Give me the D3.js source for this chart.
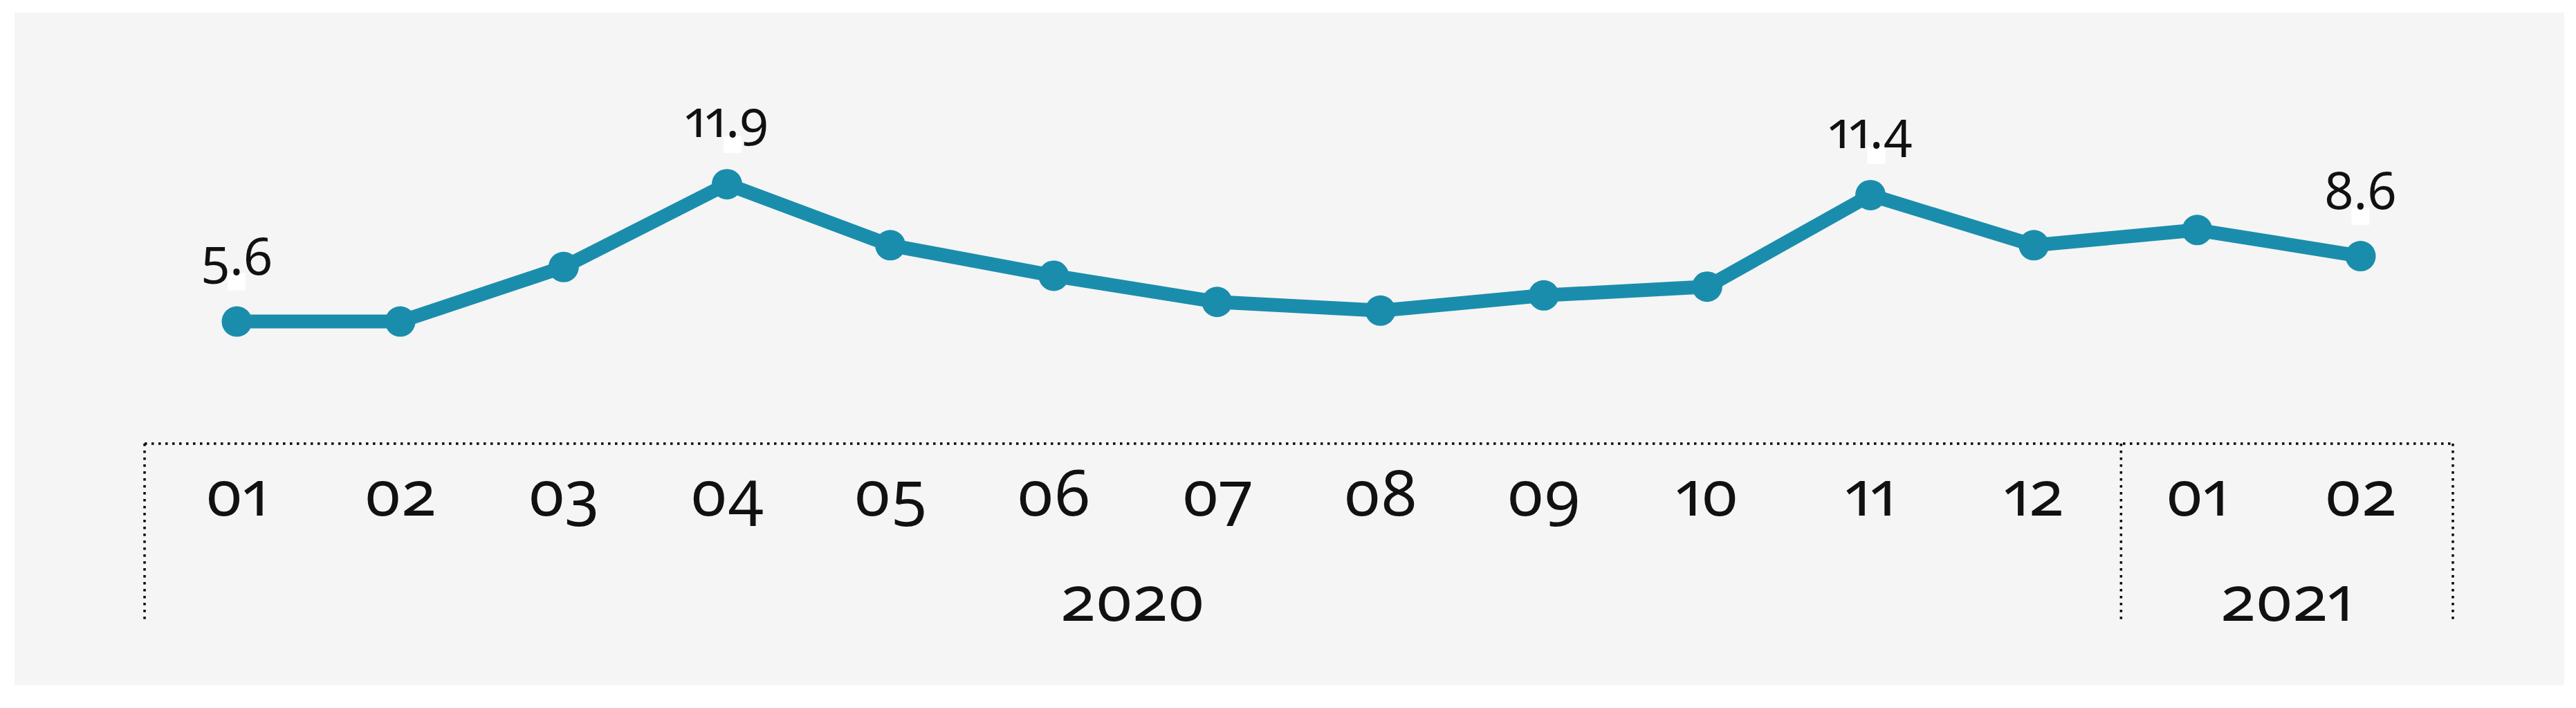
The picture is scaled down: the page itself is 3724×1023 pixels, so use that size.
<!DOCTYPE html>
<html>
<head>
<meta charset="utf-8">
<script src="https://cdn.jsdelivr.net/npm/d3@7"></script>
<style>
  html, body { margin: 0; padding: 0; background: #ffffff; }
  svg { display: block; }
  text { font-family: "Noto Sans", "Lato", sans-serif; font-variant-numeric: oldstyle-nums proportional-nums; font-feature-settings: "onum" 1, "pnum" 1; fill: #111; }
</style>
</head>
<body>
<script>
// ---- data ----
const months = ["01","02","03","04","05","06","07","08","09","10","11","12","01","02"];
const years = ["2020","2020","2020","2020","2020","2020","2020","2020","2020","2020","2020","2020","2021","2021"];
const values = [5.6, 5.6, 8.1, 11.9, 9.1, 7.7, 6.5, 6.1, 6.8, 7.2, 11.4, 9.1, 9.8, 8.6];
const labelledIdx = [0, 3, 10, 13];
const yearGroups = ["2020", "2021"];

const W = 3724, H = 1023;
const svg = d3.select("body").append("svg").attr("width", W).attr("height", H);

// panel background
svg.append("rect").attr("x", 21).attr("y", 18).attr("width", 3686).attr("height", 972).attr("fill", "#f5f5f5");

const idx = d3.range(values.length);
const x = d3.scalePoint().domain(idx).range([209, 3546]).padding(0.565);
const y = d3.scaleLinear().domain([0, 14]).range([641, 641 - 14 * 31.5]);

const lineColor = "#1b8dac";

// line
svg.append("path")
  .datum(idx)
  .attr("fill", "none")
  .attr("stroke", lineColor)
  .attr("stroke-width", 20)
  .attr("stroke-linejoin", "round")
  .attr("d", d3.line().x(i => x(i)).y(i => y(values[i])));

// markers
svg.append("g").selectAll("circle").data(idx).join("circle")
  .attr("cx", i => x(i)).attr("cy", i => y(values[i])).attr("r", 22)
  .attr("fill", lineColor);

// data labels
const lg = svg.append("g");
labelledIdx.forEach(i => {
  const t = lg.append("text")
    .attr("x", x(i)).attr("y", y(values[i]) - 68)
    .attr("text-anchor", "middle")
    .style("font-size", "74px")
    .text(values[i].toFixed(1));
  const s = values[i].toFixed(1);
  const k = s.indexOf(".");
  let cx = x(i);
  try { const e = t.node().getExtentOfChar(k); cx = e.x + e.width / 2; } catch (err) {}
  lg.insert("rect", "text")
    .attr("x", cx - 13).attr("y", y(values[i]) - 70)
    .attr("width", 26).attr("height", 25).attr("fill", "#ffffff");
});

// axis frame (dotted)
const axisY = y(0);
const x0 = x.range()[0], x1 = x.range()[1];
const dotted = { stroke: "#000", "stroke-width": 3.5, "stroke-dasharray": "3.5,6.5" };
function dline(xa, ya, xb, yb) {
  const l = svg.append("line").attr("x1", xa).attr("y1", ya).attr("x2", xb).attr("y2", yb);
  Object.entries(dotted).forEach(([k, v]) => l.attr(k, v));
}
dline(x0, axisY, x1, axisY);
const splitX = (x(11) + x(12)) / 2 + 8;
[x0, splitX, x1].forEach(xx => dline(xx, axisY, xx, 900));

// month tick labels
svg.append("g").selectAll("text").data(idx).join("text")
  .attr("x", i => x(i)).attr("y", 745)
  .attr("text-anchor", "middle")
  .style("font-size", "92px")
  .text(i => months[i]);

// year labels
const bounds = [[x0, splitX], [splitX, x1]];
svg.append("g").selectAll("text").data(yearGroups).join("text")
  .attr("x", (d, j) => (bounds[j][0] + bounds[j][1]) / 2).attr("y", 897)
  .attr("text-anchor", "middle")
  .style("font-size", "92px")
  .text(d => d);
</script>
</body>
</html>
